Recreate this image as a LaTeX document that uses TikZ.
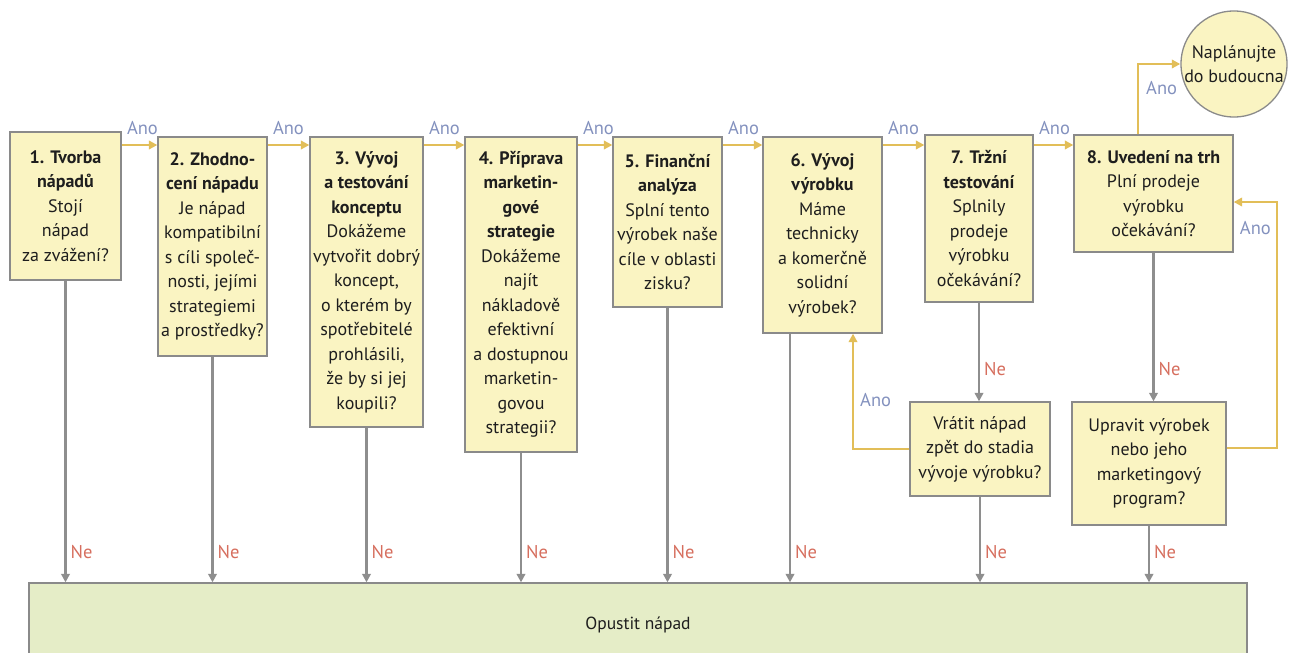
\documentclass[tikz,border=0pt]{standalone}
\usepackage{fontspec}
\setmainfont{PT Sans}
\usetikzlibrary{arrows.meta}
\definecolor{boxfill}{HTML}{FAF4C2}
\definecolor{boxline}{HTML}{8A8A8A}
\definecolor{greenfill}{HTML}{E5EDC7}
\definecolor{yescol}{HTML}{E2BE58}
\definecolor{nocol}{HTML}{8E8E8E}
\definecolor{anocol}{HTML}{8391BE}
\definecolor{necol}{HTML}{D66E5E}
\definecolor{txtcol}{HTML}{1E1E1E}
\begin{document}
\begin{tikzpicture}[x=1pt,y=-1pt,
  box/.style={draw=boxline,fill=boxfill,line width=1.3pt,align=center,inner sep=1pt,
    font=\fontsize{18}{24.5}\selectfont,text=txtcol},
  yesarrow/.style={draw=yescol,line width=2.8pt,-{Triangle[width=8.5pt,length=8.5pt]}},
  noarrow/.style={draw=nocol,line width=2.8pt,-{Triangle[width=8.5pt,length=8.5pt]}},
  anolbl/.style={text=anocol,font=\fontsize{18.5}{20}\selectfont,inner sep=1pt},
  nelbl/.style={text=necol,font=\fontsize{18.5}{20}\selectfont,inner sep=1pt,anchor=base west},
]
\useasboundingbox (0,0) rectangle (1293,653);
\clip (0,0) rectangle (1293,653);

% boxes
\node[box,minimum width=111pt,minimum height=148pt] (b1) at (65.5,206)
  {\textbf{1. Tvorba}\\\textbf{nápadů}\\Stojí\\nápad\\za zvážení?};
\node[box,minimum width=109pt,minimum height=219pt] (b2) at (212.5,246.5)
  {\textbf{2. Zhodno-}\\\textbf{cení nápadu}\\Je nápad\\kompatibilní\\s cíli společ-\\nosti, jejími\\strategiemi\\a prostředky?};
\node[box,minimum width=113pt,minimum height=290pt] (b3) at (366.5,282)
  {\textbf{3. Vývoj}\\\textbf{a testování}\\\textbf{konceptu}\\Dokážeme\\vytvořit dobrý\\koncept,\\o kterém by\\spotřebitelé\\prohlásili,\\že by si jej\\koupili?};
\node[box,minimum width=112pt,minimum height=315pt] (b4) at (521,294.5)
  {\textbf{4. Příprava}\\\textbf{marketin-}\\\textbf{gové}\\\textbf{strategie}\\Dokážeme\\najít\\nákladově\\efektivní\\a dostupnou\\marketin-\\govou\\strategii?};
\node[box,minimum width=109pt,minimum height=170pt] (b5) at (667.5,222)
  {\textbf{5. Finanční}\\\textbf{analýza}\\Splní tento\\výrobek naše\\cíle v oblasti\\zisku?};
\node[box,minimum width=119pt,minimum height=196pt] (b6) at (822.5,235)
  {\textbf{6. Vývoj}\\\textbf{výrobku}\\Máme\\technicky\\a komerčně\\solidní\\výrobek?};
\node[box,minimum width=108pt,minimum height=167pt] (b7) at (979,218.5)
  {\textbf{7. Tržní}\\\textbf{testování}\\Splnily\\prodeje\\výrobku\\očekávání?};
\node[box,minimum width=159pt,minimum height=117pt] (b8) at (1153.5,193.5)
  {\textbf{8. Uvedení na trh}\\Plní prodeje\\výrobku\\očekávání?};
\node[box,minimum width=140pt,minimum height=94pt] (vr) at (980,449)
  {Vrátit nápad\\zpět do stadia\\vývoje výrobku?};
\node[box,minimum width=154pt,minimum height=123pt] (up) at (1149,463.5)
  {Upravit výrobek\\nebo jeho\\marketingový\\program?};
\node[box,circle,minimum size=106pt,inner sep=0pt] (circ) at (1234,64)
  {Naplánujte\\do budoucna};
\node[draw=boxline,fill=greenfill,line width=1.3pt,minimum width=1218pt,minimum height=84pt,
  font=\fontsize{17.5}{20}\selectfont,text=txtcol] (green) at (638,625) {Opustit nápad};

% helper coordinates
\coordinate (ya) at (0,145);
\coordinate (x6) at (790,0);
\coordinate (x6b) at (853,0);
\coordinate (xc) at (1138,0);
\coordinate (ur) at (1277,202);
\coordinate (uy) at (0,448);

% Ano arrows between stages
\foreach \a/\b in {b1/b2,b2/b3,b3/b4,b4/b5,b5/b6,b6/b7,b7/b8}{
  \draw[yesarrow] (\a.east |- ya) -- (\b.west |- ya)
    node[pos=0,anolbl,anchor=base west,xshift=3pt,yshift=11pt] {Ano};
}

% Ne arrows to Opustit napad
\foreach \n in {b1,b2,b3,b4,b5,vr,up}{
  \draw[noarrow] (\n.south) -- (\n.south |- green.north);
  \node[nelbl,xshift=4pt] at (\n.south |- 0,558) {Ne};
}
\draw[noarrow] (b6.south -| x6) -- (green.north -| x6);
\node[nelbl,xshift=4pt] at (x6 |- 0,558) {Ne};

% Ne arrows to lower boxes
\draw[noarrow] (b7.south) -- (b7.south |- vr.north);
\node[nelbl,xshift=4pt] at (b7.south |- 0,375) {Ne};
\draw[noarrow] (b8.south) -- (b8.south |- up.north);
\node[nelbl,xshift=4pt] at (b8.south |- 0,375) {Ne};

% Ano loops
\draw[yesarrow] (vr.west) -| (b6.south -| x6b);
\node[anolbl,anchor=west] at (859,400) {Ano};
\draw[yesarrow] (up.east |- uy) -| (ur) -- (b8.east |- ur);
\node[anolbl,anchor=east] at (1272,228) {Ano};
\draw[yesarrow] (b8.north -| xc) |- (circ.west);
\node[anolbl,anchor=west] at (1145,88) {Ano};
\end{tikzpicture}
\end{document}
